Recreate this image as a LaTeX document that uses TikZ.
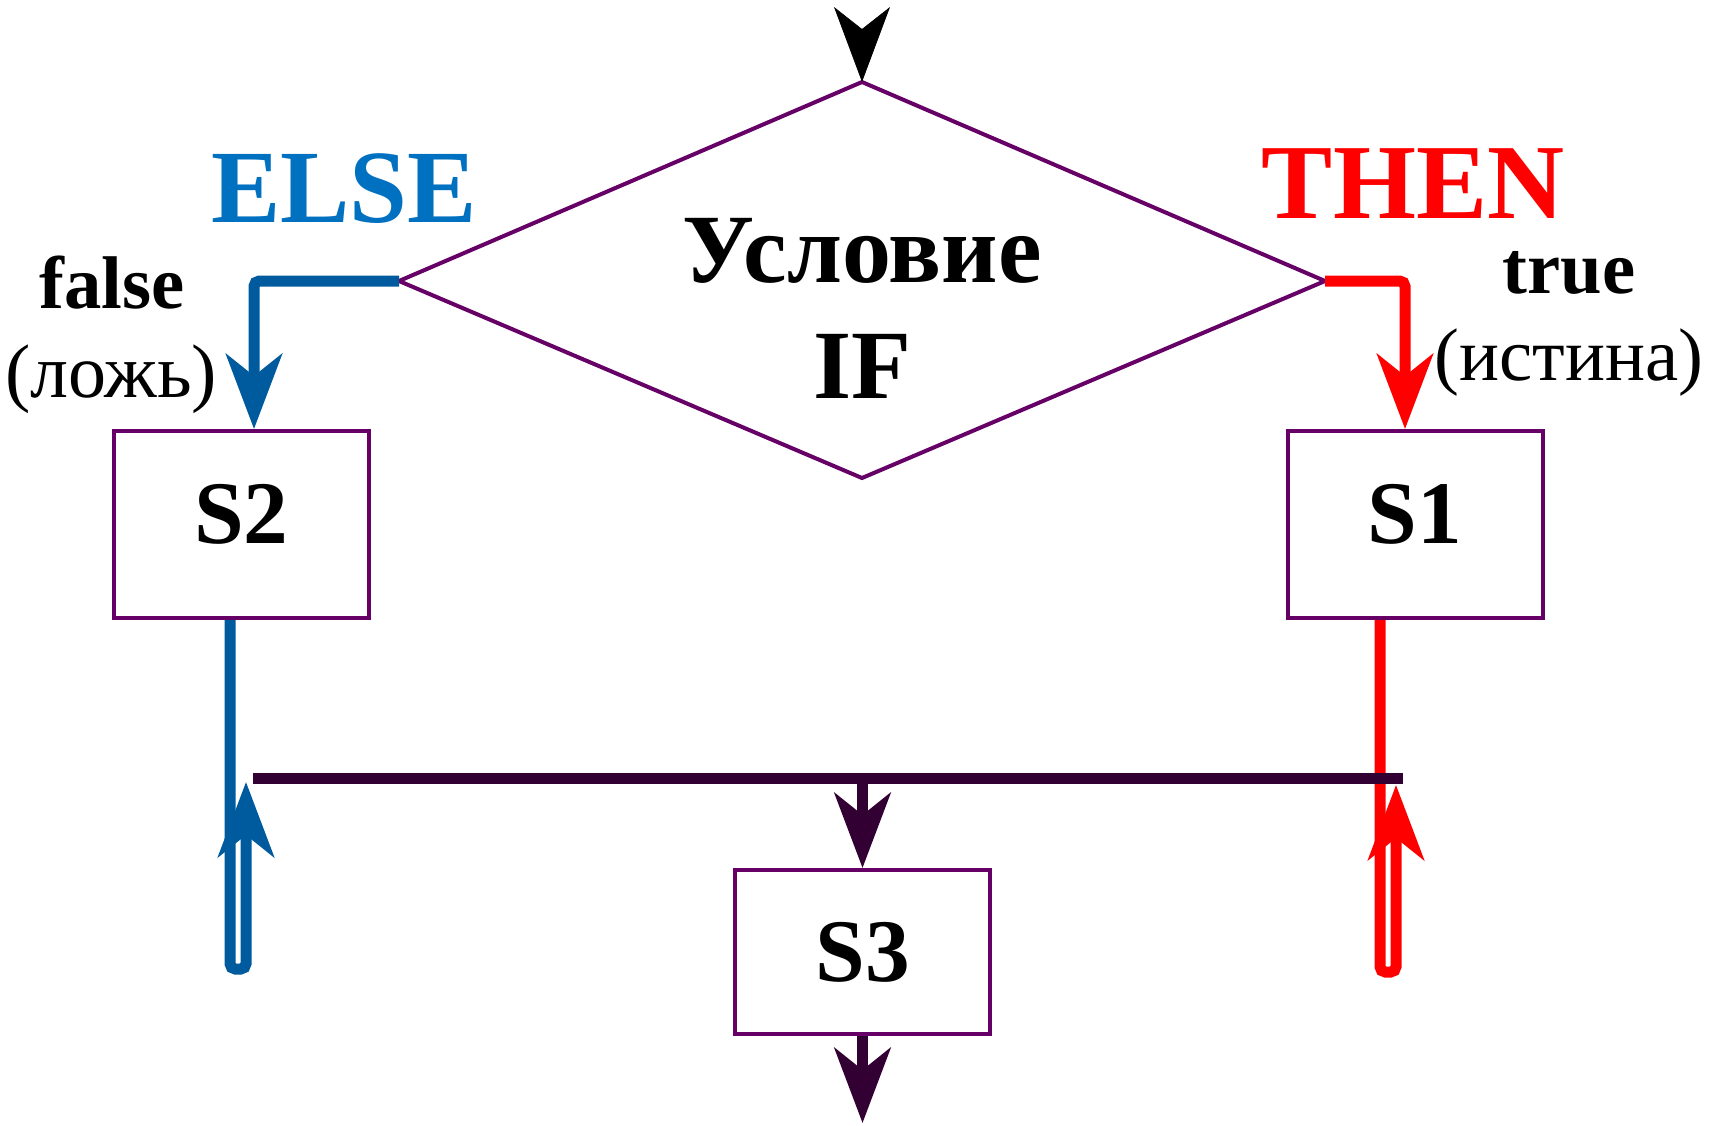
\documentclass[tikz,border=0pt]{standalone}
\usepackage{fontspec}
\setmainfont{Liberation Serif}
\usetikzlibrary{arrows.meta,calc}
\definecolor{outl}{HTML}{660066}
\definecolor{bl}{HTML}{005A9E}
\definecolor{elseblue}{HTML}{0070C0}
\definecolor{redc}{HTML}{FF0000}
\definecolor{dark}{HTML}{330033}
\newcommand{\fsz}[1]{\fontsize{#1}{#1}\selectfont}
\begin{document}
\begin{tikzpicture}[x=0.75pt,y=-0.75pt,
  tip/.style={-{Stealth[length=56.25pt,width=42pt,inset=16.5pt]}},
  thick line/.style={line width=8.25pt},
  box/.style={draw=outl,line width=3pt,rectangle,inner sep=0pt,minimum width=191.25pt,
    font=\bfseries\fsz{67pt},text height=44pt},
  txt/.style={inner sep=0pt,anchor=base}]
\useasboundingbox (0,0) rectangle (1715,1125);

% diamond
\coordinate (dT) at (862,82);
\coordinate (dR) at (1325,281);
\coordinate (dB) at (862,478);
\coordinate (dL) at (399,281);
\draw[outl,line width=3pt,line join=miter] (dT) -- (dR) -- (dB) -- (dL) -- cycle;
\node[txt,font=\bfseries\fsz{73.5pt}] (cond) at (862,282) {Условие};
\node[txt,font=\bfseries\fsz{73.5pt}] (if) at (862,398) {IF};

% boxes
\node[box,minimum height=140.25pt,text depth=16pt] (S2) at (241.5,524.5) {S2};
\node[box,minimum height=140.25pt,text depth=16pt] (S1) at (1415,524.5) {S1};
\node[box,minimum height=123pt,text depth=0pt] (S3) at (862.5,952) {S3};

% labels
\node[txt,font=\bfseries\fsz{78pt},text=elseblue] (else) at (344,222) {ELSE};
\node[txt,font=\bfseries\fsz{80pt},text=redc] (then) at (1413,218) {THEN};
\node[txt,font=\bfseries\fsz{56pt}] (false) at (112,308) {false};
\node[txt,font=\fsz{57pt}] (lozh) at (111,397) {(ложь)};
\node[txt,font=\bfseries\fsz{56pt}] (true) at (1569,293) {true};
\node[txt,font=\fsz{56pt}] (ist) at (1569,380) {(истина)};

% top arrow
\coordinate (top) at (862,32);
\draw[tip,line width=0.5pt] (top) -- (dT);

% branches
\draw[tip,bl,thick line,rounded corners=4pt] (dL) -| ($(S2.north)+(12.5,0)$);
\draw[tip,redc,thick line,rounded corners=4pt] (dR) -| ($(S1.north)+(-10,0)$);

% loops
\draw[tip,bl,thick line,rounded corners=4pt] ($(S2.south)+(-11.5,0)$) -- ++(0,349) -- ++(16,0) -- ++(0,-187);
\draw[tip,redc,thick line,rounded corners=4pt] ($(S1.south)+(-35,0)$) -- ++(0,352) -- ++(16,0) -- ++(0,-187);

% merge
\coordinate (mL) at (253,778);
\coordinate (mR) at (1403,778);
\draw[dark,thick line] (mL) -- (mR);
\draw[tip,dark,thick line] (S3.north |- mL) -- (S3.north);

% bottom
\coordinate (bot) at (862.5,1123);
\draw[tip,dark,thick line] (S3.south) -- (bot);
\end{tikzpicture}
\end{document}
